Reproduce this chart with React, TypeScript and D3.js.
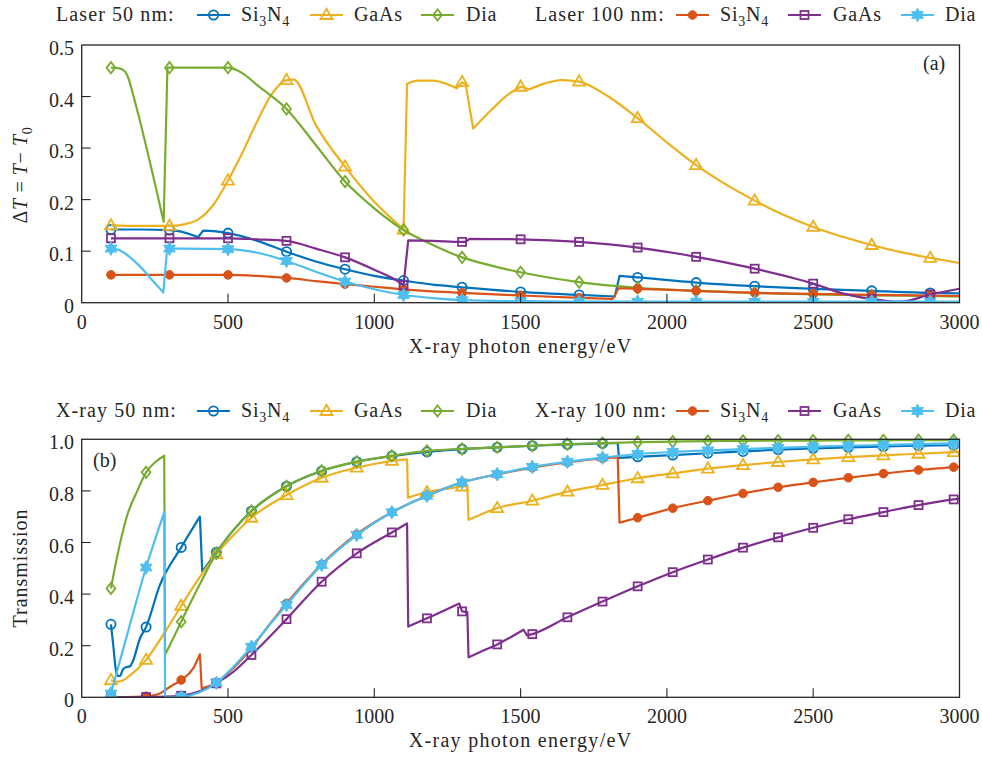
import React from 'react';
import * as d3 from 'd3';

type Pt = [number, number];
type Seg = Pt[];
type MarkerKind = 'circle' | 'triangle' | 'diamond' | 'dot' | 'square' | 'hexagram';

const BLUE = '#0072BD';
const ORANGE = '#D95319';
const YELLOW = '#EDB120';
const PURPLE = '#7E2F8E';
const GREEN = '#77AC30';
const CYAN = '#4DBEEE';
const INK = '#262626';

const xTicks = [0, 500, 1000, 1500, 2000, 2500, 3000];
const yTicksA = [0, 0.1, 0.2, 0.3, 0.4, 0.5];
const yTicksB = [0, 0.2, 0.4, 0.6, 0.8, 1.0];

const markerEnergiesA = [100, 300, 500, 700, 900, 1100, 1300, 1500, 1700, 1900, 2100, 2300, 2500, 2700, 2900];
const markerEnergiesB = [100, 220, 340, 460, 580, 700, 820, 940, 1060, 1180, 1300, 1420, 1540, 1660, 1780,
  1900, 2020, 2140, 2260, 2380, 2500, 2620, 2740, 2860, 2980];

// (a) laser heating, each series split where it jumps
const laser50Si3N4: Seg[] = [
  [[100, 0.142], [200, 0.142], [300, 0.141], [340, 0.138], [380, 0.131], [398, 0.127]],
  [[415, 0.140], [450, 0.139], [500, 0.135], [600, 0.120], [700, 0.099], [800, 0.080], [900, 0.065], [1000, 0.052],
    [1100, 0.043], [1200, 0.035], [1300, 0.030], [1500, 0.021], [1700, 0.015], [1822, 0.012]],
  [[1838, 0.052], [1900, 0.049], [2100, 0.039], [2300, 0.032], [2500, 0.027], [2700, 0.023], [2900, 0.019], [3000, 0.018]],
];
const laser50GaAs: Seg[] = [
  [[100, 0.150], [200, 0.149], [300, 0.149], [350, 0.152], [400, 0.162], [450, 0.190], [500, 0.237], [550, 0.292],
    [600, 0.352], [650, 0.405], [700, 0.432], [725, 0.433], [800, 0.345], [900, 0.264], [1000, 0.196], [1050, 0.168], [1100, 0.142]],
  [[1112, 0.425], [1150, 0.431], [1200, 0.431], [1250, 0.424], [1282, 0.416]],
  [[1300, 0.428], [1312, 0.424]],
  [[1338, 0.338], [1400, 0.374], [1460, 0.405], [1500, 0.419]],
  [[1530, 0.414], [1580, 0.425], [1640, 0.432], [1700, 0.429], [1800, 0.400], [1900, 0.358], [2000, 0.311], [2100, 0.267],
    [2200, 0.230], [2300, 0.198], [2400, 0.170], [2500, 0.147], [2600, 0.128], [2700, 0.112], [2800, 0.098], [2900, 0.087], [3000, 0.077]],
];
const laser50Dia: Seg[] = [
  [[100, 0.456], [125, 0.455], [145, 0.450], [160, 0.435], [175, 0.405], [280, 0.157]],
  [[293, 0.456], [300, 0.456], [400, 0.456], [500, 0.456], [550, 0.445], [600, 0.422], [700, 0.376], [800, 0.306],
    [900, 0.235], [1000, 0.183], [1100, 0.141], [1200, 0.112], [1300, 0.088], [1400, 0.072], [1500, 0.059], [1700, 0.040],
    [1900, 0.029], [2100, 0.023], [2300, 0.019], [2500, 0.016], [2700, 0.014], [2900, 0.013], [3000, 0.012]],
];
const laser100Si3N4: Seg[] = [
  [[100, 0.054], [300, 0.054], [500, 0.054], [600, 0.052], [700, 0.048], [800, 0.042], [900, 0.036], [1000, 0.031],
    [1100, 0.026], [1300, 0.019], [1500, 0.014], [1700, 0.0095], [1815, 0.0075]],
  [[1835, 0.028], [1900, 0.027], [2100, 0.023], [2300, 0.019], [2500, 0.017], [2700, 0.015], [2900, 0.014], [3000, 0.013]],
];
const laser100GaAs: Seg[] = [
  [[100, 0.125], [300, 0.125], [500, 0.125], [600, 0.123], [700, 0.120], [800, 0.105], [900, 0.088], [1000, 0.064],
    [1085, 0.040], [1100, 0.034]],
  [[1116, 0.121], [1200, 0.120], [1300, 0.118], [1312, 0.118]],
  [[1325, 0.124], [1500, 0.123], [1700, 0.118], [1900, 0.107], [2100, 0.089], [2300, 0.066], [2500, 0.037], [2600, 0.018],
    [2700, 0.007], [2800, 0.002], [2900, 0.016], [3000, 0.027]],
];
const laser100Dia: Seg[] = [
  [[100, 0.105], [125, 0.103], [154, 0.093], [200, 0.070], [245, 0.041], [279, 0.020]],
  [[292, 0.105], [300, 0.105], [500, 0.104], [600, 0.097], [700, 0.081], [800, 0.060], [900, 0.041], [1000, 0.026],
    [1100, 0.015], [1200, 0.009], [1300, 0.005], [1500, 0.003], [1700, 0.002], [1900, 0.002], [2100, 0.002], [2300, 0.002],
    [2500, 0.002], [2700, 0.002], [2900, 0.002], [3000, 0.002]],
];

// (b) X-ray transmission
const xray50Si3N4: Seg[] = [
  [[100, 0.283], [108, 0.200], [115, 0.120], [122, 0.085], [130, 0.082], [142, 0.110], [155, 0.118], [165, 0.120],
    [175, 0.140], [199, 0.228], [220, 0.272], [267, 0.435], [340, 0.581], [404, 0.700]],
  [[412, 0.487], [460, 0.562], [520, 0.650], [580, 0.722], [700, 0.818], [820, 0.877], [940, 0.913], [1060, 0.935],
    [1180, 0.951], [1300, 0.962], [1420, 0.969], [1540, 0.975], [1660, 0.980], [1780, 0.984], [1832, 0.985]],
  [[1836, 0.928], [1900, 0.932], [2020, 0.939], [2140, 0.946], [2260, 0.953], [2380, 0.960], [2500, 0.965], [2620, 0.969],
    [2740, 0.972], [2860, 0.975], [2980, 0.977], [3000, 0.977]],
];
const xray50GaAs: Seg[] = [
  [[100, 0.066], [120, 0.060], [140, 0.065], [160, 0.080], [220, 0.145], [280, 0.245], [340, 0.354], [400, 0.460],
    [460, 0.554], [520, 0.630], [580, 0.696], [700, 0.784], [820, 0.851], [940, 0.890], [1060, 0.916], [1112, 0.922]],
  [[1115, 0.774], [1180, 0.795], [1300, 0.817], [1318, 0.820]],
  [[1322, 0.688], [1360, 0.707], [1420, 0.733], [1540, 0.762], [1660, 0.797], [1780, 0.823], [1900, 0.849], [2020, 0.868],
    [2140, 0.886], [2260, 0.900], [2380, 0.912], [2500, 0.922], [2620, 0.931], [2740, 0.938], [2860, 0.944], [2980, 0.950], [3000, 0.951]],
];
const xray50Dia: Seg[] = [
  [[100, 0.422], [120, 0.539], [154, 0.700], [190, 0.800], [220, 0.872], [250, 0.910], [282, 0.936]],
  [[285, 0.164], [340, 0.293], [400, 0.430], [460, 0.558], [520, 0.650], [580, 0.722], [700, 0.818], [820, 0.878],
    [940, 0.913], [1060, 0.936], [1180, 0.955], [1300, 0.963], [1420, 0.969], [1540, 0.975], [1660, 0.981], [1780, 0.985],
    [1900, 0.989], [2020, 0.991], [2140, 0.993], [2260, 0.994], [2380, 0.995], [2500, 0.995], [2620, 0.996], [2740, 0.996],
    [2860, 0.997], [2980, 0.997], [3000, 0.997]],
];
const xray100Si3N4: Seg[] = [
  [[100, 0.002], [150, 0.001], [220, 0.004], [267, 0.015], [302, 0.041], [340, 0.067], [381, 0.112], [404, 0.167]],
  [[410, 0.035], [460, 0.056], [520, 0.115], [580, 0.190], [640, 0.280], [700, 0.364], [820, 0.515], [940, 0.632],
    [1060, 0.717], [1180, 0.781], [1300, 0.833], [1420, 0.864], [1540, 0.890], [1660, 0.911], [1780, 0.926], [1832, 0.930]],
  [[1838, 0.677], [1900, 0.696], [2020, 0.733], [2140, 0.762], [2260, 0.790], [2380, 0.814], [2500, 0.833], [2620, 0.851],
    [2740, 0.867], [2860, 0.881], [2980, 0.892], [3000, 0.894]],
];
const xray100GaAs: Seg[] = [
  [[100, 0.000], [220, 0.001], [340, 0.006], [400, 0.022], [460, 0.054], [520, 0.100], [580, 0.164], [640, 0.232],
    [700, 0.303], [820, 0.448], [940, 0.558], [1060, 0.639], [1112, 0.674]],
  [[1116, 0.274], [1180, 0.306], [1290, 0.364]],
  [[1300, 0.333], [1318, 0.330]],
  [[1322, 0.155], [1360, 0.175], [1420, 0.205], [1510, 0.262]],
  [[1522, 0.240], [1540, 0.245], [1660, 0.310], [1780, 0.371], [1900, 0.430], [2020, 0.485], [2140, 0.534], [2260, 0.580],
    [2380, 0.620], [2500, 0.657], [2620, 0.690], [2740, 0.718], [2860, 0.745], [2980, 0.767], [3000, 0.770]],
];
const xray100Dia: Seg[] = [
  [[100, 0.015], [160, 0.262], [220, 0.503], [282, 0.717]],
  [[285, 0.000], [340, 0.002], [400, 0.018], [460, 0.056], [520, 0.120], [580, 0.196], [640, 0.278], [700, 0.358],
    [820, 0.513], [940, 0.629], [1060, 0.717], [1180, 0.781], [1300, 0.833], [1420, 0.865], [1540, 0.893], [1660, 0.913],
    [1780, 0.929], [1900, 0.943], [2020, 0.951], [2140, 0.957], [2260, 0.962], [2380, 0.967], [2500, 0.971], [2620, 0.975],
    [2740, 0.978], [2860, 0.981], [2980, 0.984], [3000, 0.984]],
];

const materials = ['Si3N4', 'GaAs', 'Dia', 'Si3N4', 'GaAs', 'Dia'];
const seriesColors = [BLUE, YELLOW, GREEN, ORANGE, PURPLE, CYAN];
const seriesMarkers: MarkerKind[] = ['circle', 'triangle', 'diamond', 'dot', 'square', 'hexagram'];

const laserData = [laser50Si3N4, laser50GaAs, laser50Dia, laser100Si3N4, laser100GaAs, laser100Dia];
const xrayData = [xray50Si3N4, xray50GaAs, xray50Dia, xray100Si3N4, xray100GaAs, xray100Dia];

// generic serif falls back to a sans face here, so name the font on every text
const TXT = { fontFamily: '"Liberation Serif"' };

const x = d3.scaleLinear().domain([0, 3000]).range([81.7, 959.5]);

function hexagramPath(r: number) {
  const pts: string[] = [];
  for (let i = 0; i < 12; i++) {
    const a = (Math.PI / 6) * i - Math.PI / 2;
    const rr = i % 2 === 0 ? r : r * 0.55;
    pts.push(`${(rr * Math.cos(a)).toFixed(2)},${(rr * Math.sin(a)).toFixed(2)}`);
  }
  return 'M' + pts.join('L') + 'Z';
}

function Marker({ kind, cx, cy, color }: { kind: MarkerKind; cx: number; cy: number; color: string }) {
  const sw = 1.8;
  switch (kind) {
    case 'circle':
      return <circle cx={cx} cy={cy} r={4.6} fill="none" stroke={color} strokeWidth={sw} />;
    case 'dot':
      return <circle cx={cx} cy={cy} r={4.3} fill={color} stroke={color} strokeWidth={1} />;
    case 'triangle':
      return <path d="M0,-6.2L6,4L-6,4Z" transform={`translate(${cx},${cy})`} fill="none" stroke={color} strokeWidth={sw} strokeLinejoin="miter" />;
    case 'diamond':
      return <path d="M0,-5.6L4.4,0L0,5.6L-4.4,0Z" transform={`translate(${cx},${cy})`} fill="none" stroke={color} strokeWidth={sw} />;
    case 'square':
      return <rect x={cx - 4} y={cy - 4} width={8} height={8} fill="none" stroke={color} strokeWidth={sw} />;
    case 'hexagram':
      return <path d={hexagramPath(6.8)} transform={`translate(${cx},${cy})`} fill={color} stroke={color} strokeWidth={1} strokeLinejoin="round" />;
  }
}

function buildPath(segs: Seg[], y: d3.ScaleLinear<number, number>) {
  const line = d3.line<Pt>().x(d => x(d[0])).y(d => y(d[1])).curve(d3.curveMonotoneX);
  return segs
    .map((s, i) => {
      const d = (line(s) || '').replace(/Z$/, '');
      return i === 0 ? d : 'L' + d.slice(1);
    })
    .join('');
}

function MatLabel({ name, x0, y0 }: { name: string; x0: number; y0: number }) {
  if (name === 'Si3N4') {
    return (
      <text x={x0} y={y0} fontSize={20} letterSpacing={0.8} style={TXT}>
        Si<tspan dy={5} fontSize={14}>3</tspan><tspan dy={-5}>N</tspan><tspan dy={5} fontSize={14}>4</tspan>
      </text>
    );
  }
  return <text x={x0} y={y0} fontSize={20} letterSpacing={0.8} style={TXT}>{name}</text>;
}

const legendSlots = [
  { lineX: 197, textX: 241 },
  { lineX: 310, textX: 354 },
  { lineX: 421, textX: 466 },
  { lineX: 676, textX: 720 },
  { lineX: 788, textX: 833 },
  { lineX: 901, textX: 945 },
];

function Legend({ y0, left, right }: { y0: number; left: string; right: string }) {
  return (
    <g fill={INK}>
      <text x={56} y={y0 + 6} fontSize={20} letterSpacing={1.1} style={TXT}>{left}</text>
      <text x={535} y={y0 + 6} fontSize={20} letterSpacing={1.1} style={TXT}>{right}</text>
      {legendSlots.map((s, i) => (
        <g key={i}>
          <line x1={s.lineX} x2={s.lineX + 33} y1={y0} y2={y0} stroke={seriesColors[i]} strokeWidth={2.2} />
          <Marker kind={seriesMarkers[i]} cx={s.lineX + 16.5} cy={y0} color={seriesColors[i]} />
          <MatLabel name={materials[i]} x0={s.textX} y0={y0 + 6} />
        </g>
      ))}
    </g>
  );
}

function Panel({ data, markerEnergies, y, ticks, id, tag, tagX, tagY }: {
  data: Seg[][]; markerEnergies: number[]; y: d3.ScaleLinear<number, number>; ticks: number[];
  id: string; tag: string; tagX: number; tagY: number;
}) {
  const [x0, x1] = x.range();
  const [yb, yt] = y.range();
  const fmt = (v: number) => (v === 0 ? '0' : v.toFixed(1));
  return (
    <g>
      <defs>
        <clipPath id={id}>
          <rect x={x0} y={yt - 8} width={x1 - x0} height={yb - yt + 8} />
        </clipPath>
      </defs>
      <g clipPath={`url(#${id})`}>
        {data.map((segs, i) => {
          const pts = segs.flat().filter(p => markerEnergies.includes(p[0]));
          return (
            <g key={i}>
              <path d={buildPath(segs, y)} fill="none" stroke={seriesColors[i]} strokeWidth={2.2} strokeLinejoin="round" />
              {pts.map((p, j) => (
                <Marker key={j} kind={seriesMarkers[i]} cx={x(p[0])} cy={y(p[1])} color={seriesColors[i]} />
              ))}
            </g>
          );
        })}
      </g>
      <rect x={x0} y={yt} width={x1 - x0} height={yb - yt} fill="none" stroke={INK} strokeWidth={1.3} />
      {xTicks.map(t => (
        <g key={t}>
          {t > 0 && t < 3000 && <line x1={x(t)} x2={x(t)} y1={yb} y2={yb - 9} stroke={INK} strokeWidth={1.1} />}
          <text x={x(t)} y={yb + 26} fontSize={20} textAnchor="middle" fill={INK} style={TXT}>{t}</text>
        </g>
      ))}
      {ticks.map(t => (
        <g key={t}>
          {t > 0 && t < ticks[ticks.length - 1] && <line x1={x0} x2={x0 + 9} y1={y(t)} y2={y(t)} stroke={INK} strokeWidth={1.1} />}
          <text x={74} y={y(t) + 10} fontSize={20} textAnchor="end" fill={INK} style={TXT}>{fmt(t)}</text>
        </g>
      ))}
      <text x={tagX} y={tagY} fontSize={20} fill={INK} style={TXT}>{tag}</text>
      <text x={(x0 + x1) / 2} y={yb + 50} fontSize={20} textAnchor="middle" fill={INK} letterSpacing={1.3} style={TXT}>
        X-ray photon energy/eV
      </text>
    </g>
  );
}

export default function App() {
  const yA = d3.scaleLinear().domain([0, 0.5]).range([302.7, 45]);
  const yB = d3.scaleLinear().domain([0, 1]).range([697.3, 439.3]);
  return (
    <svg width={982} height={758} style={{ position: 'absolute', left: 0, top: 0, background: '#fff' }}>
      <rect width={982} height={758} fill="#fff" />
      <Legend y0={15} left="Laser 50 nm:" right="Laser 100 nm:" />
      <Legend y0={411} left="X-ray 50 nm:" right="X-ray 100 nm:" />
      <Panel data={laserData} markerEnergies={markerEnergiesA} y={yA} ticks={yTicksA} id="clipA" tag="(a)" tagX={923} tagY={70} />
      <Panel data={xrayData} markerEnergies={markerEnergiesB} y={yB} ticks={yTicksB} id="clipB" tag="(b)" tagX={93} tagY={467} />
      <text transform="translate(27,175) rotate(-90)" fontSize={20} textAnchor="middle" fill={INK} letterSpacing={0.6} style={TXT}>
        Δ<tspan fontStyle="italic">T</tspan> = <tspan fontStyle="italic">T</tspan>− <tspan fontStyle="italic">T</tspan>
        <tspan dy={5} fontSize={14}>0</tspan>
      </text>
      <text transform="translate(27,568) rotate(-90)" fontSize={20} textAnchor="middle" fill={INK} letterSpacing={1} style={TXT}>
        Transmission
      </text>
    </svg>
  );
}
